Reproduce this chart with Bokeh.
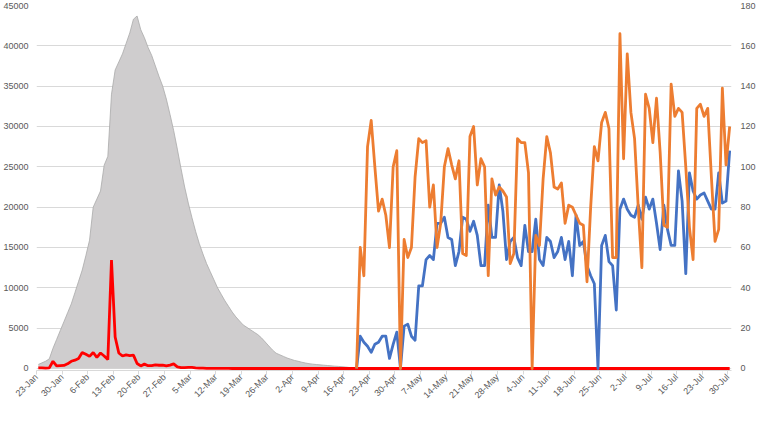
import numpy as np
from math import pi
from bokeh.plotting import figure
from bokeh.models import Range1d, LinearAxis, FixedTicker, NumeralTickFormatter
from bokeh.embed import file_html
from bokeh.resources import INLINE

# ---- data (day 0 = 23-Jan, daily) ----
tick_labels = ["23-Jan", "30-Jan", "6-Feb", "13-Feb", "20-Feb", "27-Feb", "5-Mar",
               "12-Mar", "19-Mar", "26-Mar", "2-Apr", "9-Apr", "16-Apr", "23-Apr",
               "30-Apr", "7-May", "14-May", "21-May", "28-May", "4-Jun", "11-Jun",
               "18-Jun", "25-Jun", "2-Jul", "9-Jul", "16-Jul", "23-Jul", "30-Jul"]

# gray area (left axis), from 23-Jan
gray = [500, 700, 900, 1200, 2500, 3600, 4700, 5800, 6900, 8000,
        9400, 10800, 12200, 14000, 15900, 20000, 21000, 22000, 25200, 26300,
        34000, 37000, 38000, 39000, 40300, 41600, 43300, 43700, 42000, 41000,
        39800, 38800, 37500, 36200, 35000, 33400, 31500, 29500, 27200, 24800,
        22500, 20500, 18700, 17000, 15500, 14200, 13000, 12000, 11000, 10000,
        9200, 8400, 7700, 7000, 6400, 5900, 5400, 5100, 4800, 4500,
        4200, 3800, 3300, 2800, 2300, 1900, 1700, 1500, 1300, 1150,
        1000, 900, 780, 680, 600, 540, 490, 450, 410, 370,
        330, 290, 260, 220, 180, 120, 60, 0]

# red line (left axis), from 23-Jan to 31-Jul
red = [70, 77, 46, 80, 892, 315, 356, 378, 576, 894,
       1033, 1242, 1967, 1766, 1501, 1985, 1379, 1921, 1552, 1104,
       13436, 3910, 1923, 1548, 1690, 1600, 1660, 615, 319, 541,
       348, 348, 439, 401, 409, 318, 420, 565, 193, 114,
       111, 131, 126, 74, 41, 36, 17, 13, 8, 5,
       4, 4, 4, 1, 1, 0, 0, 0, 0, 0,
       0, 0, 0, 0, 0, 0, 0, 0, 0, 0,
       0, 0, 0, 0, 0, 0, 0, 0, 0, 0,
       0, 0, 0, 0, 0, 0, 0, 0, 0, 0,
       0, 0, 0, 0, 0, 0, 0, 0, 0, 0,
       0, 0, 0, 0, 0, 0, 0, 0, 0, 0,
       0, 0, 0, 0, 0, 0, 0, 0, 0, 0,
       0, 0, 0, 0, 0, 0, 0, 0, 0, 0,
       0, 0, 0, 0, 0, 0, 0, 0, 0, 0,
       0, 0, 0, 0, 0, 0, 0, 0, 0, 0,
       0, 0, 0, 0, 0, 0, 0, 0, 0, 0,
       0, 0, 0, 0, 0, 0, 0, 0, 0, 0,
       0, 0, 0, 0, 0, 0, 0, 0, 0, 0,
       0, 0, 0, 0, 0, 0, 0, 0, 0, 0]

# blue and orange lines (right axis), from 19-Apr (day 87) to 31-Jul
lines_start = 87
blue = [0, 16, 13, 11, 8, 12, 13, 16, 16, 5,
        12, 18, 0, 21, 22, 16, 14, 41, 41, 54,
        56, 54, 72, 72, 75, 65, 64, 51, 58, 75,
        74, 68, 73, 66, 51, 51, 81, 65, 65, 91,
        78, 54, 63, 65, 55, 51, 71, 58, 58, 74,
        54, 51, 65, 63, 55, 58, 65, 54, 63, 46,
        76, 61, 63, 51, 46, 42, 0, 61, 66, 53,
        51, 29, 79, 84, 79, 76, 75, 81, 74, 85,
        79, 84, 72, 59, 81, 69, 61, 61, 98, 83,
        47, 97, 88, 84, 86, 87, 83, 79, 79, 97,
        82, 83, 108]
orange = [0, 60, 46, 110, 123, 100, 78, 84, 76, 60,
          100, 108, 0, 64, 55, 60, 95, 114, 112, 113,
          80, 91, 60, 72, 100, 109, 101, 94, 103, 57,
          56, 115, 120, 91, 104, 100, 46, 94, 86, 90,
          88, 85, 52, 57, 114, 112, 112, 97, 0, 66,
          61, 94, 115, 107, 90, 89, 92, 72, 81, 80,
          76, 72, 71, 43, 80, 110, 103, 122, 127, 119,
          55, 55, 166, 104, 156, 127, 114, 80, 50, 136,
          129, 112, 134, 107, 71, 70, 141, 125, 129, 127,
          100, 70, 54, 129, 131, 125, 129, 95, 63, 69,
          139, 101, 120]

n_days = len(red)

# ---- figure ----
left_max = 45000
right_max = 180
pad = 250  # small room below zero so the zero-level line is fully visible
p = figure(width=758, height=406, output_backend="svg", toolbar_location=None,
           x_range=Range1d(0, n_days), y_range=Range1d(-pad, left_max),
           min_border_left=0, min_border_right=0, min_border_top=5,
           min_border_bottom=0)
p.extra_y_ranges = {"right": Range1d(-pad * right_max / left_max, right_max)}
p.outline_line_color = None
p.background_fill_color = "white"
p.border_fill_color = "white"

font = "Liberation Sans"
lab_color = "#595959"

# left axis
p.yaxis.ticker = FixedTicker(ticks=list(range(0, 45001, 5000)))
p.yaxis.formatter = NumeralTickFormatter(format="0")
p.yaxis.axis_line_color = None
p.yaxis.major_tick_line_color = None
p.yaxis.minor_tick_line_color = None
p.yaxis.major_tick_out = 0
p.yaxis.major_tick_in = 0
p.yaxis.minor_tick_out = 0
p.yaxis.major_label_text_color = lab_color
p.yaxis.major_label_text_font = font
p.yaxis.major_label_text_font_size = "9px"
p.yaxis.major_label_standoff = 8

# right axis
ra = LinearAxis(y_range_name="right", ticker=FixedTicker(ticks=list(range(0, 181, 20))))
ra.axis_line_color = None
ra.major_tick_line_color = None
ra.minor_tick_line_color = None
ra.major_tick_out = 0
ra.major_tick_in = 0
ra.minor_tick_out = 0
ra.major_label_text_color = lab_color
ra.major_label_text_font = font
ra.major_label_text_font_size = "9px"
ra.major_label_standoff = 9
p.add_layout(ra, "right")

# bottom axis
xt = list(range(0, n_days, 7))
p.xaxis.ticker = FixedTicker(ticks=xt)
p.xaxis.major_label_overrides = {t: lab for t, lab in zip(xt, tick_labels)}
p.xaxis.major_label_orientation = pi / 4
p.xaxis.major_label_text_color = lab_color
p.xaxis.major_label_text_font = font
p.xaxis.major_label_text_font_size = "9px"
p.xaxis.major_tick_in = 0
p.xaxis.major_tick_out = 4
p.xaxis.minor_tick_out = 0
p.xaxis.major_tick_line_color = "#D9D9D9"
p.xaxis.minor_tick_line_color = None
p.xaxis.axis_line_color = "#D9D9D9"
p.xaxis.major_label_standoff = 1

p.xgrid.visible = False
p.ygrid.grid_line_color = "#D9D9D9"
p.ygrid.grid_line_width = 1

# glyphs
gx = np.arange(len(gray)) + 0.5
p.varea(x=gx, y1=np.zeros(len(gray)), y2=gray, fill_color="#CFCDCE")
p.line(gx, gray, line_color="#A9A9A9", line_width=0.8)

rx = np.arange(n_days) + 0.5
p.line(rx, red, line_color="#FF0000", line_width=2.8)

lx = lines_start + np.arange(len(blue)) + 0.5
p.line(lx, blue, line_color="#4472C4", line_width=2.8, y_range_name="right",
       line_join="round")
p.line(lx, orange, line_color="#ED7D31", line_width=2.8, y_range_name="right",
       line_join="round")

open("out.html", "w").write(file_html(p, INLINE))
